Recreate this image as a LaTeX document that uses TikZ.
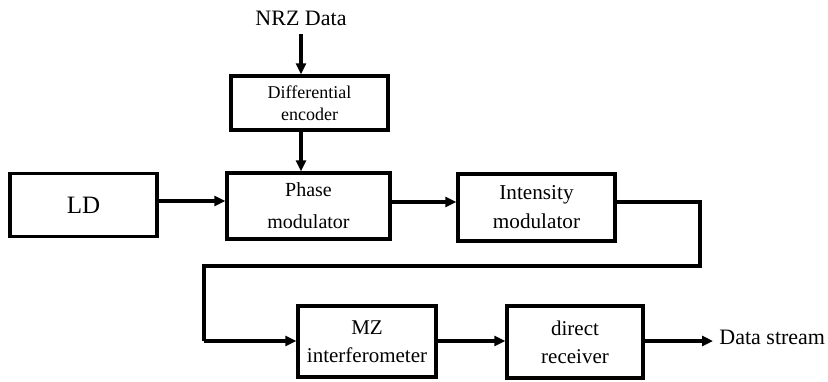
\documentclass[tikz,border=0pt]{standalone}
\usepackage{fontspec}
\setmainfont{Liberation Serif}
\usetikzlibrary{arrows.meta}
\begin{document}
\begin{tikzpicture}[x=0.5pt,y=-0.5pt,
  blk/.style={draw,line width=1.7pt,rectangle,inner sep=0pt,align=center,font=\fontsize{10}{14.5}\selectfont},
  arr/.style={line width=1.7pt,-{Triangle[length=5.5pt,width=5pt]}},
  wire/.style={line width=1.7pt}]
\useasboundingbox (0,0) rectangle (828,381);
\node[font=\fontsize{11}{13}\selectfont] (nrz) at (301,18) {NRZ Data};
\node[blk,minimum width=78.5pt,minimum height=27pt,font=\fontsize{9}{11}\selectfont] (diff) at (309.5,103) {Differential\\encoder};
\node[blk,minimum width=81.5pt,minimum height=33pt,font=\fontsize{10}{16}\selectfont] (ph) at (308.5,206) {Phase\\modulator};
\node[blk,minimum width=73.5pt,minimum height=31.5pt,font=\fontsize{12.5}{14}\selectfont] (ld) at (83.5,205) {LD};
\node[blk,minimum width=78.5pt,minimum height=33.5pt,font=\fontsize{10.6}{14.5}\selectfont] (im) at (536.5,207.5) {Intensity\\modulator};
\node[blk,minimum width=69pt,minimum height=35.5pt,font=\fontsize{10.5}{14}\selectfont] (mz) at (367,341.5) {MZ\\interferometer};
\node[blk,minimum width=68pt,minimum height=36pt,font=\fontsize{10.5}{14}\selectfont] (dr) at (575,342) {direct\\receiver};
\node[anchor=west,inner sep=0pt,font=\fontsize{11}{13}\selectfont] (ds) at (719,337) {Data stream};
\coordinate (ra) at (0,201);
\coordinate (rb) at (0,202);
\coordinate (rc) at (0,341);
\coordinate (c1) at (700,202);
\coordinate (c2) at (700,266);
\coordinate (c3) at (204,266);
\coordinate (c4) at (204,341);
\coordinate (dsend) at (713,341);
\draw[arr] ([yshift=-1pt]nrz.south) -- (diff.north -| nrz);
\draw[arr] (diff.south -| nrz) -- (ph.north -| nrz);
\draw[arr] (ld.east |- ra) -- (ph.west |- ra);
\draw[arr] (ph.east |- rb) -- (im.west |- rb);
\draw[wire,line join=miter] (im.east |- rb) -- (c1) -- (c2) -- (c3) -- (c4);
\draw[arr] (c4) -- (mz.west |- rc);
\draw[arr] (mz.east |- rc) -- (dr.west |- rc);
\draw[arr] (dr.east |- rc) -- (dsend);
\end{tikzpicture}
\end{document}
